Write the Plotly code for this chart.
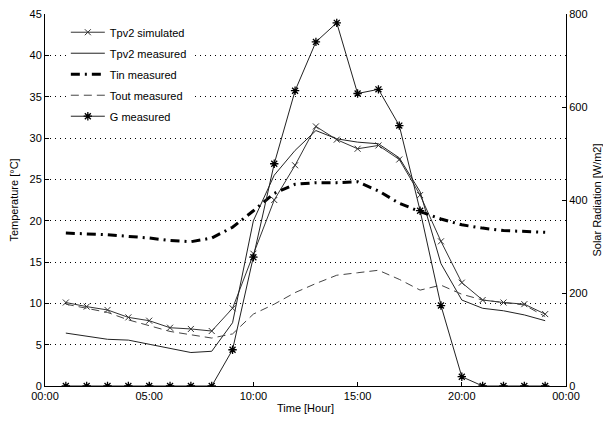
import plotly.graph_objects as go

hours = list(range(1, 25))
tpv2_sim = [10.1, 9.6, 9.2, 8.3, 7.9, 7.05, 6.9, 6.65, 9.4, 16.0, 22.5, 26.7,
            31.4, 29.8, 28.7, 29.1, 27.4, 23.1, 17.5, 12.5, 10.4, 10.1, 9.9, 8.7]
tpv2_meas = [6.4, 6.0, 5.65, 5.55, 5.05, 4.55, 4.05, 4.2, 7.65, 20.0, 25.5, 28.5,
             30.9, 29.9, 29.5, 29.3, 27.6, 23.5, 14.8, 10.4, 9.4, 9.1, 8.6, 7.9]
tin_meas = [18.5, 18.4, 18.3, 18.1, 17.9, 17.6, 17.45, 17.9, 19.2, 21.2, 23.3, 24.4,
            24.6, 24.6, 24.7, 23.6, 22.1, 21.1, 20.2, 19.5, 19.1, 18.8, 18.7, 18.6]
tout_meas = [9.9, 9.4, 8.9, 8.0, 7.3, 6.6, 6.2, 5.8, 6.3, 8.7, 9.9, 11.3,
             12.4, 13.4, 13.7, 14.0, 12.9, 11.6, 12.2, 11.1, 10.4, 10.1, 9.8, 8.4]
g_meas = [0, 0, 0, 0, 0, 0, 0, 0, 78, 277, 478, 635,
          740, 781, 629, 638, 560, 377, 173, 20, 0, 0, 0, 0]

x_tickvals = [0, 5, 10, 15, 20, 25]
x_ticktext = ["00:00", "05:00", "10:00", "15:00", "20:00", "00:00"]

fig = go.Figure()
fig.add_trace(go.Scatter(x=hours, y=tpv2_sim, name="Tpv2 simulated", mode="lines+markers",
                         line=dict(color="#333333", width=1),
                         marker=dict(symbol="x-thin-open", size=6, color="#333333",
                                     line=dict(width=1, color="#333333")),
                         legendgroup="a"))
fig.add_trace(go.Scatter(x=hours, y=tpv2_meas, name="Tpv2 measured", mode="lines",
                         line=dict(color="#222222", width=1), legendgroup="b"))
fig.add_trace(go.Scatter(x=hours, y=tin_meas, name="Tin measured", mode="lines",
                         line=dict(color="black", width=3, dash="9px,5px,2px,5px"),
                         legendgroup="c"))
fig.add_trace(go.Scatter(x=hours, y=tout_meas, name="Tout measured", mode="lines",
                         line=dict(color="#444444", width=1, dash="8px,5px"),
                         legendgroup="d"))
fig.add_trace(go.Scatter(x=hours, y=g_meas, name="G measured", mode="lines+markers",
                         yaxis="y2",
                         line=dict(color="#222222", width=1),
                         marker=dict(symbol="asterisk-open", size=7, color="black",
                                     line=dict(width=1.3, color="black")),
                         legendgroup="e"))

fig.update_layout(
    width=603, height=421,
    margin=dict(l=45, r=37, t=14, b=35, autoexpand=False),
    plot_bgcolor="white", paper_bgcolor="white",
    font=dict(family="Liberation Sans, Arial, sans-serif", size=11, color="black"),
    showlegend=True,
    legend=dict(x=0.04, y=0.99, xanchor="left", yanchor="top",
                bgcolor="white", borderwidth=0, font=dict(size=11),
                tracegroupgap=2, itemwidth=34),
    xaxis=dict(range=[0, 25], tickvals=x_tickvals, ticktext=x_ticktext,
               ticks="inside", ticklen=4, tickcolor="black",
               showline=True, linecolor="black", linewidth=1,
               showgrid=False, zeroline=False, automargin=False,
               title=dict(text="Time [Hour]", standoff=3, font=dict(size=11))),
    yaxis=dict(range=[0, 45], dtick=5, tick0=0,
               ticks="inside", ticklen=4, tickcolor="black",
               showline=True, linecolor="black", linewidth=1,
               showgrid=True, gridcolor="black", gridwidth=1, griddash="1px,4px",
               zeroline=False, automargin=False,
               title=dict(text="Temperature [°C]", standoff=8, font=dict(size=11))),
    yaxis2=dict(range=[0, 800], dtick=200, tick0=0, overlaying="y", side="right",
                ticks="inside", ticklen=4, tickcolor="black",
                showline=True, linecolor="black", linewidth=1,
                showgrid=False, zeroline=False, automargin=False,
                title=dict(text="Solar Radiation [W/m2]", standoff=10, font=dict(size=11))),
)

fig.write_html("out.html")
